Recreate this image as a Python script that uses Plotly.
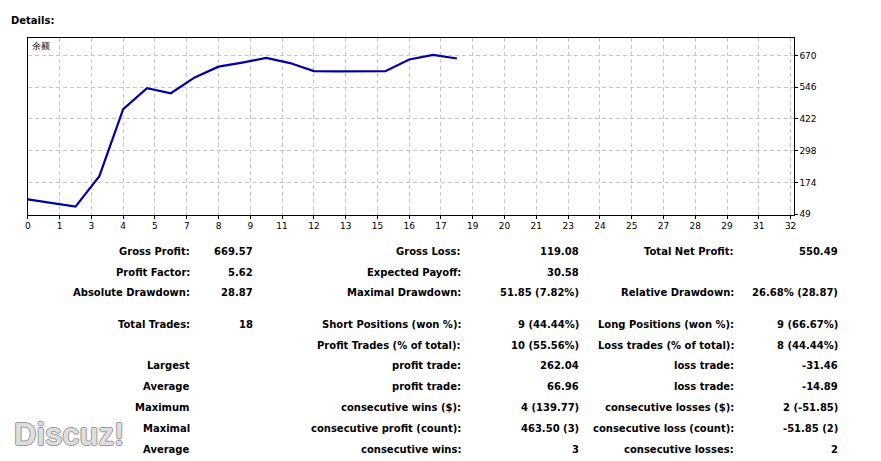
import plotly.graph_objects as go

W, H = 881, 461

# ---- data ----
trade_no = list(range(19))
balance = [107.5, 93.0, 78.6, 198.0, 460.0, 542.0, 522.0, 584.0, 626.0, 642.0,
           660.0, 640.0, 608.5, 607.5, 607.0, 608.0, 654.0, 672.0, 658.0]

x_tick_labels = ["0", "1", "3", "4", "5", "7", "8", "9", "11", "12", "13", "15", "16",
                 "17", "19", "20", "21", "23", "24", "25", "27", "28", "29", "31", "32"]
x_tick_step = 4 / 3
y_tick_labels = ["49", "174", "298", "422", "546", "670"]
y_tick_values = [49, 173.2, 297.4, 421.6, 545.8, 670]

row_labels_1 = ["Gross Profit:", "Profit Factor:", "Absolute Drawdown:", "Total Trades:",
                "", "Largest", "Average", "Maximum", "Maximal", "Average"]
row_values_1 = ["669.57", "5.62", "28.87", "18", "", "", "", "", "", ""]
row_labels_2 = ["Gross Loss:", "Expected Payoff:", "Maximal Drawdown:", "Short Positions (won %):",
                "Profit Trades (% of total):", "profit trade:", "profit trade:",
                "consecutive wins ($):", "consecutive profit (count):", "consecutive wins:"]
row_values_2 = ["119.08", "30.58", "51.85 (7.82%)", "9 (44.44%)", "10 (55.56%)", "262.04",
                "66.96", "4 (139.77)", "463.50 (3)", "3"]
row_labels_3 = ["Total Net Profit:", "", "Relative Drawdown:", "Long Positions (won %):",
                "Loss trades (% of total):", "loss trade:", "loss trade:",
                "consecutive losses ($):", "consecutive loss (count):", "consecutive losses:"]
row_values_3 = ["550.49", "", "26.68% (28.87)", "9 (66.67%)", "8 (44.44%)", "-31.46",
                "-14.89", "2 (-51.85)", "-51.85 (2)", "2"]

# ---- layout geometry (pixels) ----
plot_l, plot_r, plot_t, plot_b = 25, 796, 38, 217
row_y = [254, 275, 296, 328, 349, 370, 391, 412, 433, 454]
col_edges = [190, 254, 463, 582, 738, 843]

FONT = "DejaVu Sans"

x_tick_vals = [i * x_tick_step for i in range(len(x_tick_labels))]

fig = go.Figure()
fig.add_trace(go.Scatter(x=trade_no, y=balance, mode="lines",
                         line=dict(color="#0000a8", width=2.2), hoverinfo="skip"))

fig.update_layout(
    width=W, height=H, autosize=False,
    margin=dict(l=0, r=0, t=0, b=0),
    paper_bgcolor="white", plot_bgcolor="white",
    showlegend=False,
    font=dict(family=FONT, size=10, color="black"),
    xaxis=dict(domain=[plot_l / W, plot_r / W], range=[0, (plot_r - plot_l) / 24],
               tickmode="array", tickvals=x_tick_vals, ticktext=x_tick_labels,
               showgrid=True, gridcolor="#c8c8c8", griddash="4px,3px", gridwidth=1,
               showline=True, linecolor="black", linewidth=1, mirror=True,
               ticks="outside", ticklen=3, tickcolor="black",
               tickfont=dict(family=FONT, size=9, color="black"), zeroline=False,
               fixedrange=True),
    yaxis=dict(domain=[1 - plot_b / H, 1 - plot_t / H], range=[47.5, 739.6],
               side="right",
               tickmode="array", tickvals=y_tick_values, ticktext=y_tick_labels,
               showgrid=True, gridcolor="#c8c8c8", griddash="4px,3px", gridwidth=1,
               showline=True, linecolor="black", linewidth=1, mirror=True,
               ticks="outside", ticklen=3, tickcolor="black",
               tickfont=dict(family=FONT, size=9, color="black"), zeroline=False,
               fixedrange=True),
)

ann = []


def add_text(text, px, py, anchor="right", size=10, bold=True, color="black"):
    if not text:
        return
    ann.append(dict(text=f"<b>{text}</b>" if bold else text, x=px / W, y=1 - py / H,
                    xref="paper", yref="paper", xanchor=anchor, yanchor="middle",
                    showarrow=False, font=dict(family=FONT, size=size, color=color)))


add_text("Details:", 6, 21, anchor="left", size=10)
add_text("余额", 27, 47, anchor="left", size=9, bold=False)

for i, y in enumerate(row_y):
    add_text(row_labels_1[i], col_edges[0], y)
    add_text(row_values_1[i], col_edges[1], y)
    add_text(row_labels_2[i], col_edges[2], y)
    add_text(row_values_2[i], col_edges[3], y)
    add_text(row_labels_3[i], col_edges[4], y)
    add_text(row_values_3[i], col_edges[5], y)

ann.append(dict(text="<b>Discuz!</b>", x=9 / W, y=1 - 439 / H, xref="paper", yref="paper",
                xanchor="left", yanchor="middle", showarrow=False,
                font=dict(family="Liberation Sans", size=31, color="#dedede",
                          shadow="1px 0 0 #9a9a9a, -1px 0 0 #9a9a9a, 0 1px 0 #9a9a9a, 0 -1px 0 #9a9a9a")))

fig.update_layout(annotations=ann)
fig.write_html("out.html")
